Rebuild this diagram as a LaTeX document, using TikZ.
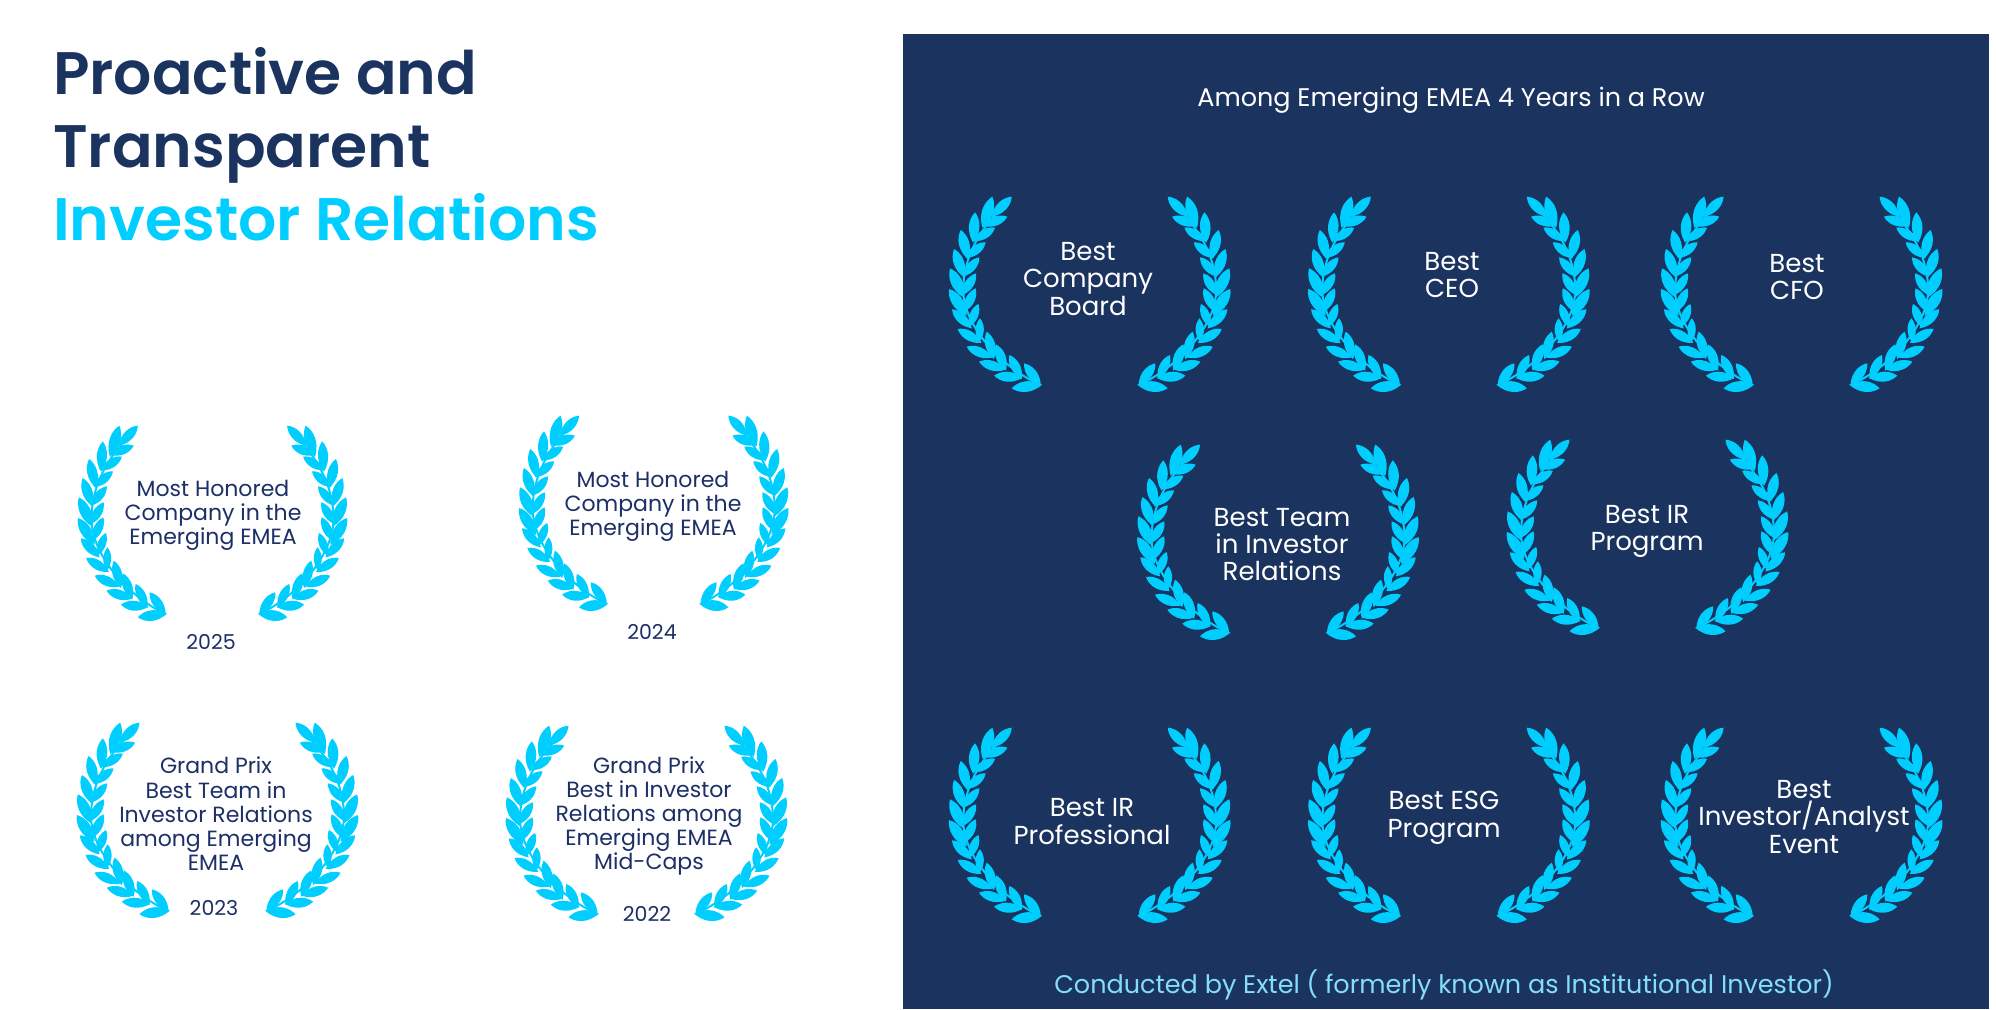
\documentclass[tikz,border=0pt]{standalone}
\usepackage{fontspec}
\setmainfont{Poppins}
\newfontfamily\titlefont{Poppins SemiBold}
\definecolor{navy}{HTML}{1B335F}
\definecolor{ink}{HTML}{1C2F66}
\definecolor{leaf}{HTML}{00CEFF}
\definecolor{pale}{HTML}{84DDFB}
\tikzset{
  paneltext/.style={text=white,align=center,font=\fontsize{26}{27.4}\selectfont,inner sep=0pt},
  headline/.style={text=white,font=\fontsize{25.5}{27.4}\selectfont,inner sep=0pt},
  smalltext/.style={text=ink,align=center,font=\fontsize{22}{24.2}\selectfont,inner sep=0pt},
  yeartext/.style={text=ink,font=\fontsize{20.5}{22}\selectfont,inner sep=0pt},
  headtext/.style={font=\titlefont\fontsize{60}{60}\selectfont,inner sep=0pt,anchor=base west},
  leafpart/.style={fill=leaf,draw=none}
}
\newcommand{\laurelhalf}{%
  \draw[leaf,line width=2pt] (298,598) .. controls (190,550) and (60,420) .. (70,300) .. controls (75,210) and (120,140) .. (165,90);
  \foreach \a/\b/\c/\d in {
    298/595/252/535, 298/600/215/610,
    242/575/208/510, 240/578/162/572,
    195/550/168/478, 190/552/117/530,
    160/515/140/440, 150/515/80/485,
    118/465/120/400, 118/470/53/432,
    90/420/115/357, 90/425/36/373,
    75/375/107/310, 75/385/27/312,
    70/325/108/265, 68/330/30/250,
    72/270/118/217, 70/270/42/192,
    82/215/137/172, 82/215/62/135,
    105/165/165/128, 100/165/105/82,
    135/120/202/95, 130/120/157/35,
    160/90/215/35}
  {\pgfmathsetmacro{\ex}{\a-0.1*(\c-\a)}\pgfmathsetmacro{\ey}{\b-0.1*(\d-\b)}
   \pgfmathsetmacro{\dx}{\c-\ex}\pgfmathsetmacro{\dy}{\d-\ey}
   \fill[leafpart] (\ex,\ey)
     .. controls ({\ex+0.40*\dx-0.27*\dy},{\ey+0.40*\dy+0.27*\dx}) and ({\ex+0.78*\dx-0.19*\dy},{\ey+0.78*\dy+0.19*\dx}) .. (\c,\d)
     .. controls ({\ex+0.78*\dx+0.19*\dy},{\ey+0.78*\dy-0.19*\dx}) and ({\ex+0.40*\dx+0.27*\dy},{\ey+0.40*\dy-0.27*\dx}) .. (\ex,\ey);}
}
\newcommand{\laurel}[3]{%
  \begin{scope}[shift={(#1,#2)},xscale=#3/3,yscale=1/3]
    \begin{scope}[shift={(-449,-33)}]\laurelhalf\end{scope}
    \begin{scope}[xscale=-1,shift={(-449,-33)}]\laurelhalf\end{scope}
  \end{scope}}
\begin{document}
\begin{tikzpicture}[x=1pt,y=-1pt]
\useasboundingbox (0,0) rectangle (1996,1009);
\fill[white] (0,0) rectangle (1996,1009);
\fill[navy] (902.5,34) rectangle (1989,1009);
\node[headtext,text=navy] (t1) at (53,94) {Proactive and};
\node[headtext,text=navy] (t2) at (53,167) {Transparent};
\node[headtext,text=leaf] (t3) at (53,240.5) {Investor Relations};
\laurel{1089.7}{196}{1}
\laurel{1448.8}{196}{1}
\laurel{1801.6}{196}{1}
\laurel{1278}{444}{1}
\laurel{1647.5}{439}{1}
\laurel{1089.7}{727}{1}
\laurel{1448.8}{727}{1}
\laurel{1801.6}{727}{1}
\laurel{212.5}{425}{0.957}
\laurel{653.7}{415}{0.957}
\laurel{217.5}{722}{1}
\laurel{646.5}{725}{1}
\node[headline] (n0) at (1451,100.5) {Among Emerging EMEA 4 Years in a Row};
\node[paneltext] (n1) at (1088,279) {Best\\Company\\Board};
\node[paneltext] (n2) at (1452,275) {Best\\CEO};
\node[paneltext] (n3) at (1797,277) {Best\\CFO};
\node[paneltext] (n4) at (1282,544.5) {Best Team\\in Investor\\Relations};
\node[paneltext] (n5) at (1647,531.5) {Best IR\\Program};
\node[paneltext] (n6) at (1092,821.5) {Best IR\\Professional};
\node[paneltext] (n7) at (1444,818) {Best ESG\\Program};
\node[paneltext] (n8) at (1804,817) {Best\\Investor/Analyst\\Event};
\node[headline,text=pale] (n9) at (1444,985) {Conducted by Extel ( formerly known as Institutional Investor)};
\node[smalltext] (s1) at (213,515.5) {Most Honored\\Company in the\\Emerging EMEA};
\node[smalltext] (s2) at (653,506.5) {Most Honored\\Company in the\\Emerging EMEA};
\node[smalltext] (s3) at (216,814) {Grand Prix\\Best Team in\\Investor Relations\\among Emerging\\EMEA};
\node[smalltext] (s4) at (649,816) {Grand Prix\\Best in Investor\\Relations among\\Emerging EMEA\\Mid-Caps};
\node[yeartext] (y1) at (211,642) {2025};
\node[yeartext] (y2) at (652,632) {2024};
\node[yeartext] (y3) at (214,908) {2023};
\node[yeartext] (y4) at (647,914) {2022};
\end{tikzpicture}
\end{document}
